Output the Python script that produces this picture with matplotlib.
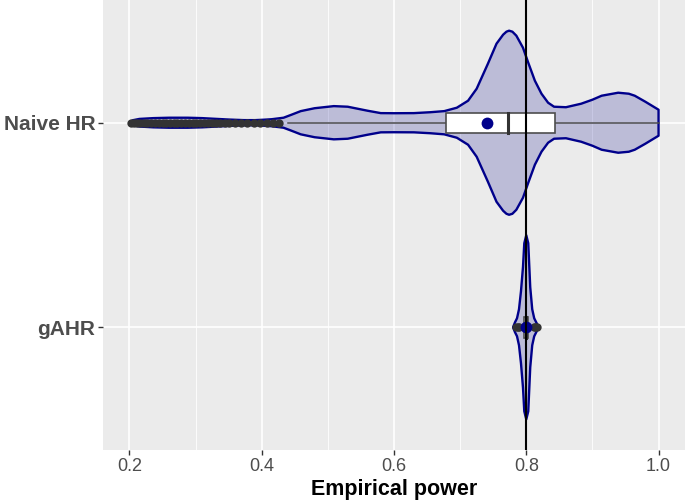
import numpy as np
import matplotlib
matplotlib.use("Agg")
import matplotlib.pyplot as plt
from matplotlib.patches import Polygon, Rectangle

plt.rcParams['font.family'] = ['Liberation Sans', 'DejaVu Sans']

# ---- data ----
groups = ["gAHR", "Naive HR"]   # bottom to top

# Naive HR violin profile (value, relative density)
naive_x = [0.200, 0.205, 0.215, 0.236, 0.26, 0.288, 0.31, 0.327, 0.35, 0.373,
           0.39, 0.403, 0.415, 0.433, 0.445, 0.459, 0.48, 0.509, 0.53, 0.545,
           0.56, 0.58, 0.60, 0.63, 0.655, 0.676, 0.695, 0.712, 0.725, 0.742,
           0.755, 0.765, 0.770, 0.774, 0.779, 0.785, 0.795, 0.803, 0.813, 0.823,
           0.833, 0.842, 0.86, 0.883, 0.90, 0.914, 0.939, 0.955, 0.964, 0.98,
           0.99, 1.0]
naive_d = [0, 2.5, 3.8, 4.6, 5, 5, 4.6, 4, 3.2, 2.6,
           2.6, 3, 3.5, 5, 8, 11.6, 14.5, 16.6, 16, 14,
           12, 9.6, 9.5, 9.6, 10.5, 11.6, 15, 22, 34, 59,
           79, 88, 91, 92, 91, 87, 75, 60, 42, 29,
           20, 16, 15.5, 19, 23, 27, 30, 29, 27, 21,
           17, 13]

# gAHR violin profile
gahr_x = [0.780, 0.783, 0.786, 0.789, 0.792, 0.795, 0.797, 0.800, 0.803,
          0.806, 0.809, 0.812, 0.815, 0.819]
gahr_d = [0, 5, 9, 18, 36, 60, 84, 92, 84, 40, 18, 9, 5, 0]

# boxplot stats: whisker low, q1, median, q3, whisker high
naive_box = [0.44, 0.678, 0.772, 0.843, 1.0]
naive_mean = 0.741
naive_out = [0.203, 0.207, 0.211, 0.216, 0.222, 0.227, 0.233, 0.238, 0.244,
             0.25, 0.255, 0.261, 0.267, 0.272, 0.278, 0.284, 0.29, 0.296,
             0.301, 0.307, 0.313, 0.319, 0.325, 0.331, 0.337, 0.344, 0.351,
             0.359, 0.368, 0.377, 0.388, 0.398, 0.408, 0.417, 0.426]

gahr_box = [0.79, 0.797, 0.800, 0.803, 0.81]
gahr_mean = 0.800
gahr_out = [0.7845, 0.787, 0.789, 0.811, 0.8135, 0.8157]

ref_power = 0.8

# ---- plot ----
fig = plt.figure(figsize=(6.85, 5.0), dpi=100)
ax = fig.add_axes([103 / 685, 0.1, 1 - 103 / 685, 0.9])
ax.set_facecolor("#EBEBEB")
for s in ax.spines.values():
    s.set_visible(False)

ax.set_xlim(0.16, 1.04)
ax.set_ylim(0.4, 2.6)

# grid
for v in [0.3, 0.5, 0.7, 0.9]:
    ax.axvline(v, color="white", lw=0.6, zorder=0)
for v in [0.2, 0.4, 0.6, 0.8, 1.0]:
    ax.axvline(v, color="white", lw=1.2, zorder=0)
for v in [1, 2]:
    ax.axhline(v, color="white", lw=1.2, zorder=0)


def violin(xs, ds, pos):
    xs = np.array(xs)
    w = np.array(ds, dtype=float) / max(ds) * 0.45
    pts = np.concatenate([np.column_stack([xs, pos + w]),
                          np.column_stack([xs[::-1], pos - w[::-1]])])
    ax.add_patch(Polygon(pts, closed=True, facecolor=(0, 0, 0.545, 0.2),
                         edgecolor="#00008B", lw=1.7, joinstyle="round", zorder=2))


def boxplot(stats, mean, outliers, pos):
    lo, q1, med, q3, hi = stats
    ax.plot([lo, q1], [pos, pos], color="#4D4D4D", lw=1.1, zorder=3)
    ax.plot([q3, hi], [pos, pos], color="#4D4D4D", lw=1.1, zorder=3)
    ax.add_patch(Rectangle((q1, pos - 0.05), q3 - q1, 0.1, facecolor="white",
                           edgecolor="#4D4D4D", lw=1.2, zorder=3))
    ax.plot([med, med], [pos - 0.05, pos + 0.05], color="#333333", lw=2.2, zorder=4)
    ax.plot(outliers, [pos] * len(outliers), "o", color="#333333", ms=6, mec="none", zorder=4)
    ax.plot([mean], [pos], "o", color="#00008B", ms=8.5, mec="none", zorder=5)


violin(naive_x, naive_d, 2)
violin(gahr_x, gahr_d, 1)
boxplot(naive_box, naive_mean, naive_out, 2)
boxplot(gahr_box, gahr_mean, gahr_out, 1)

ax.axvline(ref_power, color="black", lw=1.5, zorder=6)

ax.set_xticks([0.2, 0.4, 0.6, 0.8, 1.0])
ax.set_xticklabels(["0.2", "0.4", "0.6", "0.8", "1.0"])
ax.set_yticks([1, 2])
ax.set_yticklabels(groups, fontsize=15, fontweight="bold", color="#4D4D4D")
ax.tick_params(axis="x", labelsize=13, labelcolor="#4D4D4D", color="#333333",
               length=3.6, width=1, pad=2)
ax.tick_params(axis="y", color="#333333", length=3.6, width=1, pad=2)
ax.set_xlabel("Empirical power", fontsize=15.5, fontweight="bold", color="black", labelpad=3)

fig.savefig("out.png", dpi=100)
